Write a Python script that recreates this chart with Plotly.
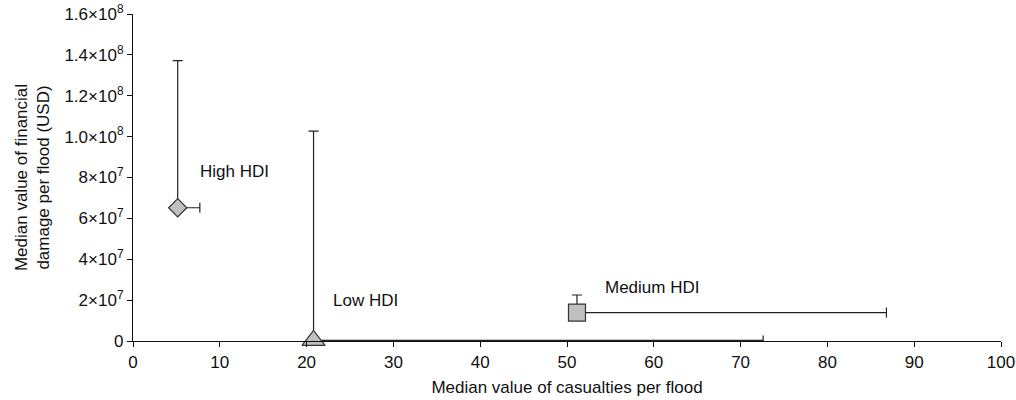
import plotly.graph_objects as go

# ---- data ----
groups = ["High HDI", "Medium HDI", "Low HDI"]
casualties = [5.15, 51.15, 20.8]
damage = [6.52e7, 1.39e7, 3e5]
casualties_err_plus = [2.55, 35.65, 51.8]
damage_err_plus = [7.2e7, 0.86e7, 1.024e8]
symbols = ["diamond", "square", "triangle-up"]
sizes = [14, 17, 20]

x_ticks = list(range(0, 101, 10))
y_tickvals = [0, 2e7, 4e7, 6e7, 8e7, 1.0e8, 1.2e8, 1.4e8, 1.6e8]
y_ticktext = ["0", "2×10<sup>7</sup>", "4×10<sup>7</sup>", "6×10<sup>7</sup>", "8×10<sup>7</sup>",
              "1.0×10<sup>8</sup>", "1.2×10<sup>8</sup>", "1.4×10<sup>8</sup>", "1.6×10<sup>8</sup>"]

label_x = [7.45, 54.2, 22.8]
label_y = [8.27e7, 2.6e7, 2.0e7]

FONT = "Liberation Sans, Arial, sans-serif"
TXT = "#111111"

fig = go.Figure()
for i, g in enumerate(groups):
    fig.add_trace(go.Scatter(
        x=[casualties[i]], y=[damage[i]], mode="markers", name=g,
        marker=dict(symbol=symbols[i], size=sizes[i], color="#c0c0c0",
                    line=dict(color="#333333", width=1.2)),
        error_x=dict(type="data", array=[casualties_err_plus[i]], arrayminus=[0],
                     symmetric=False, color="#222222", thickness=1.2, width=5),
        error_y=dict(type="data", array=[damage_err_plus[i]], arrayminus=[0],
                     symmetric=False, color="#222222", thickness=1.2, width=5),
        cliponaxis=False, showlegend=False,
    ))

annotations = []
for i, g in enumerate(groups):
    annotations.append(dict(x=label_x[i], y=label_y[i], xref="x", yref="y", text=g,
                            showarrow=False, xanchor="left", yanchor="middle",
                            font=dict(family=FONT, size=17, color=TXT)))

fig.update_layout(
    width=1016, height=400,
    margin=dict(l=133, r=15, t=14, b=59, autoexpand=False),
    paper_bgcolor="white", plot_bgcolor="white",
    font=dict(family=FONT, size=17, color=TXT),
    annotations=annotations,
    xaxis=dict(range=[0, 100], tickvals=x_ticks, showgrid=False, zeroline=False,
               automargin=False, ticklabeloverflow="allow",
               showline=True, linecolor="#111111", linewidth=1.2,
               ticks="outside", ticklen=5, tickcolor="#111111",
               tickfont=dict(family=FONT, size=17, color=TXT),
               title=dict(text="Median value of casualties per flood", standoff=10,
                          font=dict(family=FONT, size=17, color=TXT))),
    yaxis=dict(range=[0, 1.6e8], tickvals=y_tickvals, ticktext=y_ticktext,
               showgrid=False, zeroline=False, automargin=False,
               ticklabeloverflow="allow",
               showline=True, linecolor="#111111", linewidth=1.2,
               ticks="outside", ticklen=5, tickcolor="#111111",
               tickfont=dict(family=FONT, size=17, color=TXT),
               title=dict(text="Median value of financial<br>damage per flood (USD)", standoff=10,
                          font=dict(family=FONT, size=17, color=TXT))),
)

# remove the page's default 8px body margin so the figure fills the window exactly
fig.write_html("out.html", config={"displayModeBar": False},
               post_script="document.body.style.margin='0';")
